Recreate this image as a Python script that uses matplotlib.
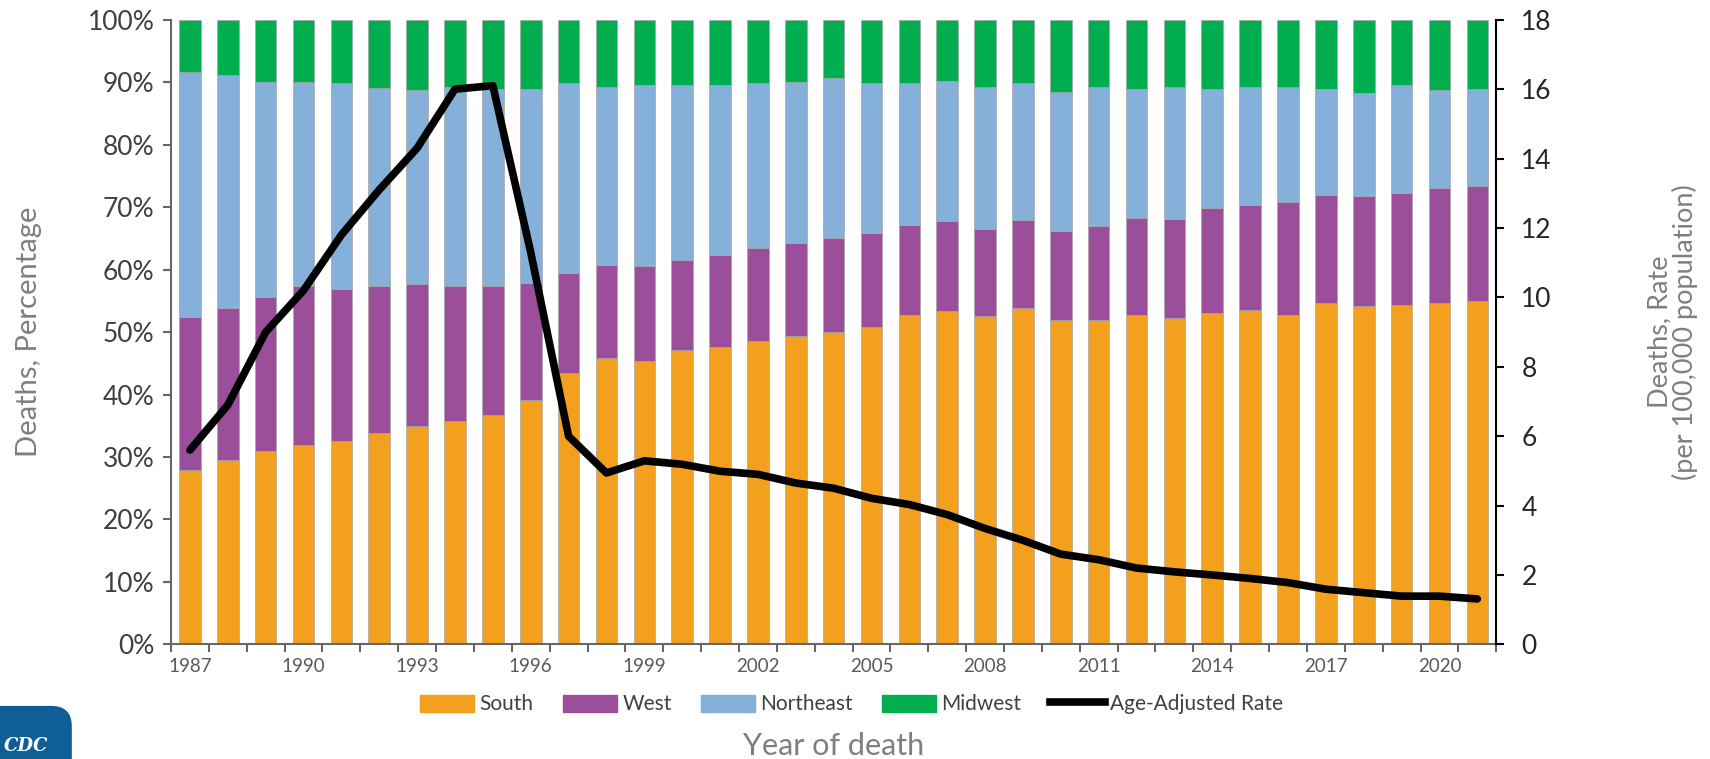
import numpy as np
import matplotlib
matplotlib.use("Agg")
import matplotlib.pyplot as plt
from matplotlib.patches import FancyBboxPatch
from matplotlib.lines import Line2D
from matplotlib.patches import Patch

plt.rcParams['font.family'] = ['Lato', 'DejaVu Sans']

years = list(range(1987, 2022))
# cumulative tops (percent)
south = [27.9, 29.5, 31.0, 31.9, 32.6, 33.9, 34.9, 35.7, 36.7, 39.2,
         43.5, 45.9, 45.3, 47.2, 47.6, 48.5, 49.4, 50.0, 50.8, 52.8,
         53.3, 52.6, 53.8, 52.0, 51.9, 52.8, 52.2, 53.1, 53.5, 52.8,
         54.7, 54.2, 54.4, 54.7, 54.9]
west_top = [52.4, 53.8, 55.6, 57.3, 56.9, 57.3, 57.7, 57.3, 57.3, 57.9,
            59.4, 60.8, 60.6, 61.6, 62.4, 63.5, 64.2, 65.1, 65.9, 67.2,
            67.7, 66.5, 67.9, 66.1, 66.9, 68.3, 68.1, 69.9, 70.3, 70.8,
            71.9, 71.8, 72.2, 73.0, 73.4]
northeast_top = [91.6, 91.2, 90.0, 90.0, 89.8, 89.1, 88.75, 89.3, 88.9, 88.9,
                 89.8, 89.3, 89.6, 89.6, 89.6, 89.8, 90.0, 90.6, 89.8, 89.8,
                 90.2, 89.2, 89.8, 88.5, 89.3, 88.9, 89.2, 88.9, 89.2, 89.2,
                 88.9, 88.3, 89.6, 88.75, 88.9]
rate = [5.6, 6.9, 9.0, 10.2, 11.8, 13.1, 14.3, 16.0, 16.1, 11.3,
        6.0, 4.94, 5.29, 5.19, 4.99, 4.9, 4.65, 4.5, 4.21, 4.03,
        3.74, 3.34, 3.0, 2.6, 2.44, 2.2, 2.09, 2.0, 1.9, 1.78,
        1.59, 1.49, 1.39, 1.39, 1.31]

south = np.array(south) / 100
west = np.array(west_top) / 100 - south
northeast = np.array(northeast_top) / 100 - np.array(west_top) / 100
midwest = 1 - np.array(northeast_top) / 100

c_south = '#F4A01F'
c_west = '#9B4F9B'
c_ne = '#84B0D9'
c_mw = '#00AE4F'
gray = '#7f7f7f'

fig = plt.figure(figsize=(17.1, 7.59), dpi=100)
ax = fig.add_axes([0.1, 0.151, 0.775, 0.823])
x = np.arange(len(years))
w = 0.57
ek = dict(edgecolor='#a6a6a6', linewidth=0.5)
ax.bar(x, south, w, color=c_south, **ek)
ax.bar(x, west, w, bottom=south, color=c_west, **ek)
ax.bar(x, northeast, w, bottom=south + west, color=c_ne, **ek)
ax.bar(x, midwest, w, bottom=south + west + northeast, color=c_mw, **ek)

ax.set_xlim(-0.5, len(years) - 0.5)
ax.set_ylim(0, 1)
ax.set_yticks(np.arange(0, 1.01, 0.1))
ax.set_yticklabels([f"{int(round(v*100))}%" for v in np.arange(0, 1.01, 0.1)])
ax.set_xticks(np.arange(-0.5, len(years), 1), minor=False)
ax.set_xticklabels([])
ax.set_xticks(x[::3], minor=True)
ax.set_xticklabels([str(y) for y in years[::3]], minor=True)
ax.tick_params(axis='x', which='major', length=6, width=1.5, color='#666666')
ax.tick_params(axis='x', which='minor', length=0, labelsize=13.5, labelcolor='#595959', pad=10)
ax.tick_params(axis='y', length=6, width=1.5, color='#666666', labelsize=19, labelcolor='#404040', pad=6)
for s in ['top', 'right']:
    ax.spines[s].set_visible(False)
for s in ['left', 'bottom']:
    ax.spines[s].set_color('#666666')
    ax.spines[s].set_linewidth(1.5)
ax.set_ylabel('Deaths, Percentage', fontsize=21, color=gray, va='center')
ax.yaxis.set_label_coords(-0.107, 0.5)
ax.set_xlabel('Year of death', fontsize=22, color=gray, va='center')
ax.xaxis.set_label_coords(0.5, -0.163)

ax2 = ax.twinx()
ax2.plot(x, rate, color='black', linewidth=5.5, solid_capstyle='round')
ax2.set_ylim(0, 18)
ax2.set_yticks(range(0, 19, 2))
ax2.tick_params(axis='y', length=6, width=1.5, color='black', labelsize=19, labelcolor='#262626', pad=12)
for s in ['top', 'left', 'bottom']:
    ax2.spines[s].set_visible(False)
ax2.spines['right'].set_color('black')
ax2.spines['right'].set_linewidth(1.5)
ax2.set_ylabel('Deaths, Rate\n(per 100,000 population)', fontsize=19.5, color=gray,
               linespacing=1.0, va='center', rotation=90)
ax2.yaxis.set_label_coords(1.133, 0.5)

handles = [Patch(color=c_south, label='South'), Patch(color=c_west, label='West'),
           Patch(color=c_ne, label='Northeast'), Patch(color=c_mw, label='Midwest'),
           Line2D([0], [0], color='black', linewidth=5.5, label='Age-Adjusted Rate')]
fig.legend(handles=handles, loc='center', bbox_to_anchor=(0.498, 0.072), ncol=5,
           frameon=False, fontsize=15, handlelength=2.6, handleheight=0.9,
           columnspacing=1.4, handletextpad=0.25, labelcolor='#404040')

logo = FancyBboxPatch((-0.02, -0.05), 0.062, 0.12, boxstyle='round,pad=0,rounding_size=0.012',
                      transform=fig.transFigure, facecolor='#0F5E95', edgecolor='none',
                      mutation_aspect=2.25)
fig.patches.append(logo)
fig.text(0.002, 0.005, 'CDC', color='white', fontsize=13, fontweight='bold',
         fontstyle='italic', family='DejaVu Serif', va='bottom', ha='left')

fig.savefig('out.png', dpi=100)
